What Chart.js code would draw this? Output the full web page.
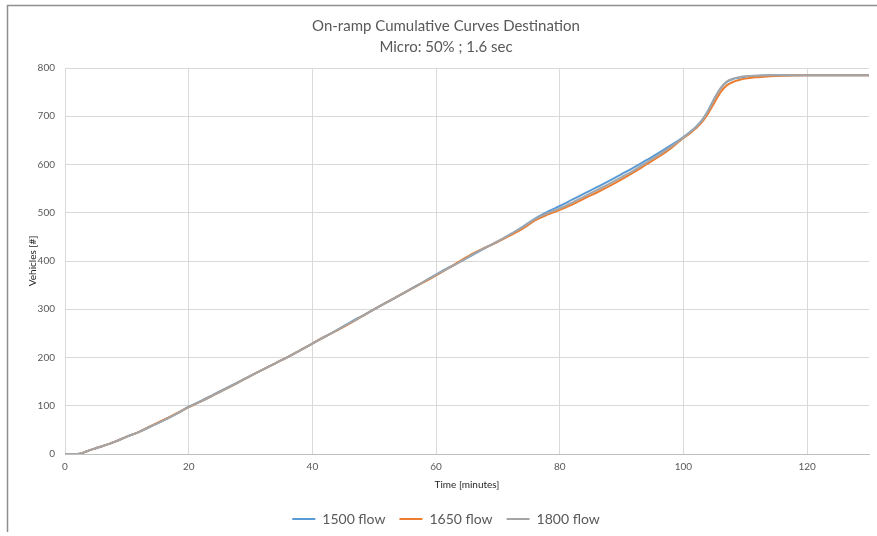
<!DOCTYPE html>
<html>
<head>
<meta charset="utf-8">
<script src="https://cdn.jsdelivr.net/npm/chart.js@4.4.0/dist/chart.umd.min.js"></script>
<style>
  html, body { margin: 0; padding: 0; background: #fff; }
  #wrap { width: 877px; height: 536px; position: relative; }
</style>
</head>
<body>
<div id="wrap"><canvas id="cumChart" width="877" height="536"></canvas></div>
<script>
// time in minutes
const minutes = [0, 1, 2, 3, 4, 5, 6, 8, 10, 12, 14, 16, 18, 20, 22, 24, 26, 28, 30, 32, 34, 36, 38, 40,
  42, 44, 46, 48, 50, 52, 54, 56, 58, 60, 62, 64, 66, 68, 70, 72, 74, 76, 78, 80, 82, 84, 86, 88, 90,
  92, 94, 96, 98, 100, 101, 102, 103, 104, 105, 106, 107, 108, 109, 110, 112, 114, 116, 120, 125, 130];

// cumulative vehicles per flow scenario
const flow1500 = [0, 0, 0, 3, 8, 12, 16, 25, 36, 46, 58, 70, 83, 98, 110, 123, 136, 149, 162, 175, 188, 201, 215, 229,
  243, 257, 272, 286, 300, 314, 328, 343, 357, 372, 386, 399, 413, 427, 440, 455, 471, 488, 502, 514, 527, 540, 553, 566, 580,
  594, 609, 624, 640, 657, 667, 678, 692, 712, 737, 758, 771, 777, 780, 782, 784, 785, 785, 785, 785, 785];
const flow1650 = [0, 0, 0, 3, 8, 12, 16, 25, 36, 46, 59, 71, 84, 97, 109, 122, 135, 148, 162, 175, 188, 201, 215, 229,
  243, 256, 270, 285, 300, 314, 328, 342, 356, 370, 385, 401, 416, 428, 440, 453, 467, 484, 496, 506, 517, 530, 542, 555, 569,
  584, 600, 616, 634, 655, 664, 675, 688, 706, 728, 750, 764, 771, 775, 778, 781, 783, 784, 785, 785, 785];
const flow1800 = [0, 0, 0, 3, 8, 12, 16, 25, 36, 46, 58, 70, 83, 97, 109, 122, 135, 148, 162, 175, 188, 201, 215, 229,
  243, 257, 271, 285, 300, 314, 328, 342, 357, 371, 385, 399, 414, 428, 441, 455, 470, 487, 499, 509, 521, 534, 547, 560, 574,
  588, 604, 620, 637, 656, 666, 677, 691, 711, 736, 758, 772, 778, 781, 783, 784, 785, 785, 785, 785, 785];

const seriesNames = ['1500 flow', '1650 flow', '1800 flow'];
const seriesColors = ['#5B9BD5', '#ED7D31', '#A5A5A5'];
const yTicks = [0, 100, 200, 300, 400, 500, 600, 700, 800];

const toPoints = vals => minutes.map((m, i) => ({ x: m, y: vals[i] }));

// outer frame (top and left edges of the chart border)
const frame = {
  id: 'frame',
  beforeDraw(chart) {
    const c = chart.ctx;
    c.save();
    c.fillStyle = '#fff';
    c.fillRect(0, 0, chart.width, chart.height);
    c.strokeStyle = '#8f8f8f';
    c.lineWidth = 1.5;
    c.beginPath();
    c.moveTo(7.5, 532);
    c.lineTo(7.5, 5.5);
    c.lineTo(877, 5.5);
    c.stroke();
    c.restore();
  }
};

const font = '"Lato", "Open Sans", sans-serif';

new Chart(document.getElementById('cumChart'), {
  type: 'line',
  data: {
    datasets: [flow1500, flow1650, flow1800].map((vals, i) => ({
      label: seriesNames[i],
      data: toPoints(vals),
      borderColor: seriesColors[i],
      backgroundColor: seriesColors[i],
      borderWidth: 2,
      pointRadius: 0,
      cubicInterpolationMode: 'monotone',
      order: 2 - i
    }))
  },
  options: {
    responsive: false,
    animation: false,
    layout: { padding: { left: 23, right: 8, top: 12, bottom: 0 } },
    plugins: {
      title: {
        display: true,
        text: ['On-ramp Cumulative Curves Destination', 'Micro: 50% ; 1.6 sec'],
        color: '#595959',
        font: { family: font, size: 15, weight: 'normal', lineHeight: 1.4 },
        padding: { top: 4, bottom: 10 }
      },
      legend: {
        position: 'bottom',
        labels: {
          color: '#595959',
          font: { family: font, size: 14 },
          boxWidth: 23,
          boxHeight: 2,
          padding: 14,
          sort: (a, b) => a.datasetIndex - b.datasetIndex,
          generateLabels: chart => Chart.defaults.plugins.legend.labels.generateLabels(chart)
            .map(item => Object.assign(item, { lineWidth: 0 }))
        }
      },
      tooltip: { enabled: false }
    },
    scales: {
      x: {
        type: 'linear',
        min: 0,
        max: 130,
        afterBuildTicks: s => { s.ticks = s.ticks.filter(t => t.value % 20 === 0); },
        ticks: { stepSize: 20, color: '#595959', font: { family: font, size: 10, lineHeight: 1 }, padding: 8, maxRotation: 0 },
        grid: { color: '#d9d9d9', drawTicks: false },
        border: { color: '#bfbfbf' },
        title: { display: true, text: 'Time [minutes]', color: '#262626', font: { family: font, size: 10, lineHeight: 1 }, padding: { top: 0, bottom: 8 } }
      },
      y: {
        min: 0,
        max: 800,
        afterBuildTicks: s => { s.ticks = yTicks.map(v => ({ value: v })); },
        afterFit: s => { s.width = 42; },
        ticks: { color: '#595959', font: { family: font, size: 10 }, padding: 10 },
        grid: { color: '#d9d9d9', drawTicks: false },
        border: { display: false },
        title: { display: true, text: 'Vehicles [#]', color: '#262626', font: { family: font, size: 10 }, padding: { bottom: 4 } }
      }
    }
  },
  plugins: [frame]
});
</script>
</body>
</html>
